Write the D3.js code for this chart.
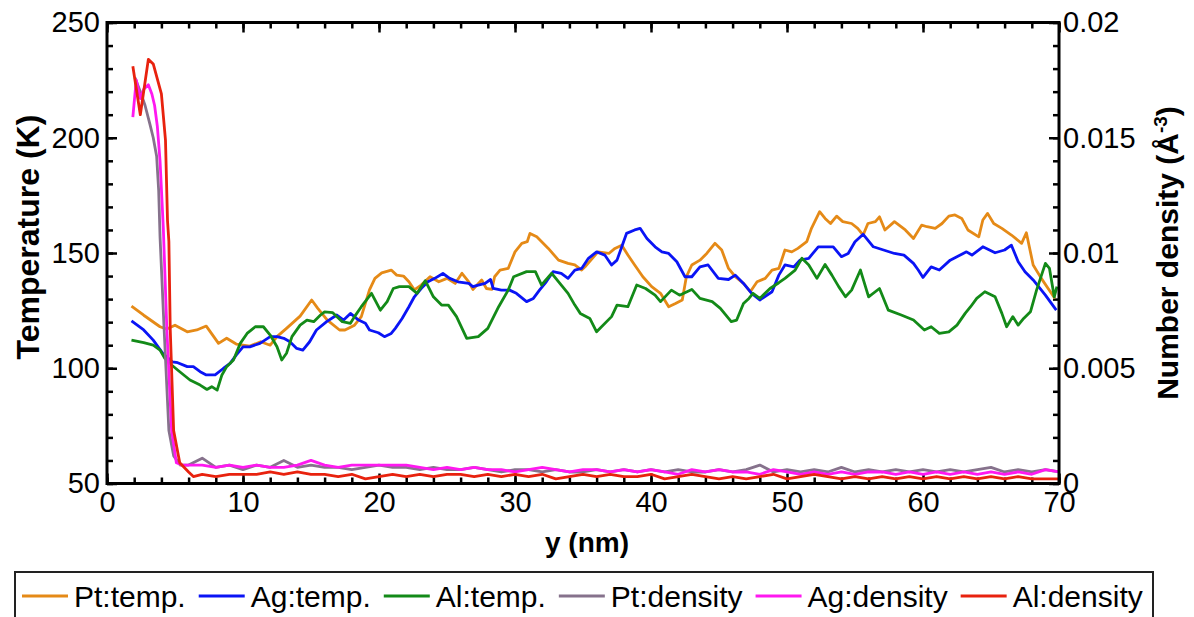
<!DOCTYPE html>
<html>
<head>
<meta charset="utf-8">
<script src="https://cdn.jsdelivr.net/npm/d3@7"></script>
<style>
  body { margin: 0; background: #fff; }
  svg { display: block; }
  text { font-family: Arial, "Liberation Sans", sans-serif; fill: #000; }
</style>
</head>
<body>
<svg id="chart" width="1194" height="617"></svg>
<script>
// ---- data: y position (nm) vs temperature (K) ----
const ptTemp = [[1.8,127],[2.7,123],[3.9,118],[4.4,117],[5.0,118.7],[5.9,115.8],[6.6,116.6],[7.3,118.3],[8.2,110.8],[8.8,113],[9.5,110.5],[10.5,109.6],[11.3,111.5],[12.0,110],[12.5,113.7],[13.2,117.3],[14.2,122.6],[15.05,129.6],[15.5,126],[16.2,120.9],[17.1,116.6],[17.5,116.6],[18.2,118.7],[18.7,122.4],[19.3,134],[19.7,139],[20.2,141.4],[20.9,142.6],[21.3,140.4],[21.8,140],[22.2,137.5],[22.6,134],[23.1,136.1],[23.75,139.7],[24.4,137.5],[25.0,139],[25.6,136.8],[26.1,141.2],[26.6,137.5],[26.9,134.2],[27.55,138.3],[27.9,134.6],[28.3,134.2],[28.5,139.7],[28.9,142.6],[29.5,143.3],[30.0,150.5],[30.5,154.2],[30.9,154.9],[31.1,158.5],[31.6,157],[32.45,152],[33.2,146.9],[33.9,145.5],[34.4,144.8],[34.9,142.6],[35.15,144],[36.1,150.5],[36.9,149.8],[37.35,152],[37.85,153.4],[38.3,149.1],[38.8,144.8],[39.4,139.7],[40.05,135.4],[40.7,132.5],[41.3,126.7],[41.8,128.1],[42.3,129.6],[42.6,139.7],[43.0,144.8],[43.6,146.9],[44.1,149.8],[44.7,154.2],[45.2,151.3],[45.7,143.3],[46.2,139.7],[46.8,136.8],[47.3,133.2],[47.8,137.5],[48.4,139],[48.9,142.6],[49.4,143.3],[49.85,151.3],[50.35,150.5],[50.8,152],[51.45,154.9],[51.8,160.7],[52.4,167.9],[52.8,165],[53.2,162.8],[53.65,166],[54.1,163.6],[54.75,162.8],[55.2,160.7],[55.6,157.8],[55.95,162.8],[56.5,163.6],[56.8,165.7],[57.2,160],[57.9,163.6],[58.7,160],[59.3,156.3],[59.9,162.1],[60.3,161.4],[60.9,160.7],[61.4,162.8],[61.9,166],[62.35,166.5],[62.85,165],[63.3,160],[64.1,157],[64.4,164.3],[64.75,167.2],[65.2,162.8],[65.8,160.7],[66.5,157.8],[67.25,154.2],[67.6,158.8],[68.1,144.8],[68.7,139],[69.2,134.6],[69.7,130.3]];

const agTemp = [[1.8,120.6],[2.7,116.6],[3.4,112.2],[4.1,106.5],[4.8,102.8],[5.2,102.4],[5.9,100.7],[6.35,100.7],[6.85,98.5],[7.3,97.1],[7.95,97.1],[8.55,99.9],[9.05,102.1],[9.5,105.7],[10.0,109.3],[10.5,109.3],[11.25,110.8],[12.0,113.7],[12.5,113.7],[13.0,113],[13.45,111.5],[13.95,108.6],[14.4,107.9],[14.9,111.5],[15.4,116.6],[16.15,120.2],[16.9,123.1],[17.4,120.9],[17.9,123.8],[18.5,120.9],[19.0,119.5],[19.3,116.6],[19.95,115.4],[20.4,113.7],[20.9,115.1],[21.2,117.3],[21.7,121.6],[22.2,126.7],[22.6,131],[23.1,134.6],[23.6,137.5],[24.1,139],[24.7,141.1],[25.2,139],[25.8,137.5],[26.6,136.8],[26.9,135.4],[27.3,136.1],[27.8,136.8],[28.2,138.5],[28.4,134.6],[29.0,133.9],[29.6,133.9],[30.1,132.5],[30.85,128.9],[31.35,130.3],[31.8,133.9],[32.3,137.5],[32.8,141.9],[33.4,141.2],[33.9,139],[34.4,142.6],[34.9,143.3],[35.4,147.7],[36.0,150.5],[36.6,149.1],[37.1,144.8],[37.5,146.9],[38.2,158.5],[38.8,160],[39.2,160.7],[39.7,156.3],[40.3,152.7],[40.8,150.5],[41.3,149.8],[41.9,146.2],[42.5,139.7],[43.0,139.7],[43.6,144],[44.2,144.8],[44.95,139],[45.7,138.5],[46.2,140.4],[46.8,136.8],[47.4,132.5],[48.0,129.6],[48.9,133.2],[49.4,140.4],[49.85,144.8],[50.5,144],[50.95,146.9],[51.6,147.7],[52.3,152.7],[53.4,152.7],[54.0,148.4],[54.5,149.8],[55.0,154.9],[55.6,158.1],[56.35,152.7],[57.1,151.3],[57.9,149.8],[58.6,149.1],[59.3,145.5],[59.65,142.6],[60.0,139.4],[60.6,144],[61.2,142.6],[62.0,146.9],[62.6,148.7],[63.2,150.5],[63.6,149.1],[64.4,152.7],[65.3,150.1],[66.0,151.3],[66.5,153.4],[67.0,146.2],[67.5,141.9],[68.1,138.3],[69.0,131.7],[69.8,125.2]];

const alTemp = [[1.8,112.2],[2.7,111.1],[3.4,110],[3.9,107.9],[4.25,104.3],[4.75,101.4],[5.35,98.5],[6.1,94.9],[6.85,92.7],[7.35,90.8],[7.7,92],[8.1,90.5],[8.45,97.1],[8.8,100.7],[9.3,103.6],[9.8,110.8],[10.3,115.1],[10.9,118],[11.5,118],[12.0,114.4],[12.5,109.3],[12.85,103.6],[13.2,106.5],[13.6,113.7],[14.2,118.7],[14.7,120.9],[15.2,120.2],[15.7,123.1],[16.0,124.5],[16.6,124.1],[17.3,120.2],[17.9,119.5],[18.2,122.4],[18.7,126.7],[19.45,132.5],[20.1,125.2],[20.6,128.9],[21.05,134.6],[21.5,135.4],[22.2,135.4],[22.8,132.5],[23.4,138],[24.0,131],[24.6,127.4],[25.1,127.4],[25.7,122.4],[26.45,113],[27.3,113.7],[28.0,117.3],[28.8,126.7],[29.5,133.9],[29.9,139.7],[30.85,141.9],[31.5,141.9],[31.95,136.1],[32.7,141.2],[33.3,136.8],[33.9,132.5],[34.4,127.4],[34.8,123.8],[35.5,121.6],[36.0,115.8],[37.1,122.4],[37.5,127.4],[38.3,126.7],[38.95,136.1],[39.6,134.6],[40.3,131.7],[40.7,128.9],[41.5,133.9],[42.1,131.7],[43.0,134.2],[43.6,130.3],[44.5,128.9],[45.1,126],[45.9,120.2],[46.3,120.9],[46.8,128.1],[47.2,130.3],[47.5,132.5],[48.0,130.3],[48.75,134.6],[49.4,137.1],[49.85,139],[50.6,142.6],[51.1,147.7],[51.6,144.8],[52.2,139],[52.8,145],[53.3,140.4],[53.8,135.4],[54.3,131],[54.75,133.9],[55.4,142.6],[56.0,131],[56.8,134.6],[57.45,125.2],[58.4,123.1],[59.3,120.9],[60.1,116.6],[60.6,118],[61.2,115.1],[61.9,115.8],[62.5,118.7],[63.1,123.8],[63.5,126.7],[63.95,130.3],[64.55,133.2],[65.3,131],[65.8,123.8],[66.15,118],[66.6,122.4],[67.0,118.7],[67.4,121.6],[67.9,124.5],[68.35,133.9],[69.0,145.5],[69.3,143.3],[69.65,131],[69.85,135.4]];

// ---- data: y position (nm) vs number density (1/Å^3) ----
const ptDens = [[2.06,0.0176],[2.45,0.0170],[2.8,0.0164],[3.15,0.0156],[3.4,0.0150],[3.65,0.0142],[3.8,0.0127],[3.9,0.0107],[4.2,0.0067],[4.55,0.0023],[4.9,0.0012],[5.4,0.0008],[6,0.0008],[7,0.0011],[8,0.0007],[9,0.0008],[10,0.0006],[11,0.0008],[12,0.0007],[13,0.0010],[14,0.0007],[15,0.0008],[16,0.0007],[17,0.0007],[18,0.0006],[19,0.0007],[20,0.0008],[21,0.0007],[22,0.0007],[23,0.0006],[24,0.0007],[25,0.0006],[26,0.0006],[27,0.0007],[28,0.0006],[29,0.0005],[30,0.0006],[31,0.0006],[32,0.0005],[33,0.0006],[34,0.0005],[35,0.0005],[36,0.0006],[37,0.0005],[38,0.0006],[39,0.0005],[40,0.0006],[41,0.0005],[42,0.0006],[43,0.0005],[44,0.0005],[45,0.0006],[46,0.0005],[47,0.0006],[48,0.0008],[49,0.0005],[50,0.0006],[51,0.0005],[52,0.0006],[53,0.0005],[54,0.0007],[55,0.0005],[56,0.0006],[57,0.0005],[58,0.0006],[59,0.0005],[60,0.0006],[61,0.0005],[62,0.0006],[63,0.0005],[64,0.0006],[65,0.0007],[66,0.0005],[67,0.0006],[68,0.0005],[69,0.0006],[70,0.0005]];

const agDens = [[1.9,0.0159],[2.15,0.0175],[2.45,0.0167],[2.7,0.0171],[3.04,0.0173],[3.3,0.0169],[3.5,0.0164],[3.7,0.0155],[3.9,0.0140],[4.14,0.0111],[4.4,0.0067],[4.75,0.0023],[5.1,0.0009],[5.5,0.0008],[6,0.0008],[7,0.0008],[8,0.0007],[9,0.0008],[10,0.0007],[11,0.0008],[12,0.0007],[13,0.0007],[14,0.0008],[15,0.0010],[16,0.0008],[17,0.0007],[18,0.0008],[19,0.0008],[20,0.0008],[21,0.0008],[22,0.0008],[23,0.0007],[24,0.0006],[25,0.0007],[26,0.0006],[27,0.0007],[28,0.0006],[29,0.0006],[30,0.0005],[31,0.0006],[32,0.0007],[33,0.0006],[34,0.0005],[35,0.0006],[36,0.0006],[37,0.0005],[38,0.0006],[39,0.0005],[40,0.0006],[41,0.0005],[42,0.0004],[43,0.0006],[44,0.0005],[45,0.0006],[46,0.0005],[47,0.0005],[48,0.0004],[49,0.0006],[50,0.0005],[51,0.0004],[52,0.0005],[53,0.0004],[54,0.0005],[55,0.0004],[56,0.0005],[57,0.0005],[58,0.0004],[59,0.0005],[60,0.0004],[61,0.0005],[62,0.0004],[63,0.0005],[64,0.0004],[65,0.0005],[66,0.0004],[67,0.0005],[68,0.0004],[69,0.0006],[70,0.0005]];

const alDens = [[1.9,0.0181],[2.45,0.0160],[3.04,0.0184],[3.4,0.0182],[4.0,0.0169],[4.3,0.0149],[4.45,0.0114],[4.55,0.0105],[4.65,0.0067],[4.9,0.0023],[5.35,0.0009],[6.0,0.0005],[6.35,0.0003],[7,0.0004],[8,0.0003],[9,0.0004],[10,0.0004],[11,0.0004],[12,0.0005],[13,0.0004],[14,0.0005],[15,0.0004],[16,0.0004],[17,0.0003],[18,0.0004],[19,0.0002],[20,0.0003],[21,0.0004],[22,0.0003],[23,0.0004],[24,0.0003],[25,0.0004],[26,0.0004],[27,0.0003],[28,0.0004],[29,0.0003],[30,0.0004],[31,0.0003],[32,0.0004],[33,0.0002],[34,0.0003],[35,0.0004],[36,0.0003],[37,0.0004],[38,0.0003],[39,0.0003],[40,0.0004],[41,0.0002],[42,0.0003],[43,0.0004],[44,0.0003],[45,0.0002],[46,0.0003],[47,0.0002],[48,0.0003],[49,0.0004],[50,0.0002],[51,0.0003],[52,0.0004],[53,0.0003],[54,0.0002],[55,0.0003],[56,0.0002],[57,0.0003],[58,0.0002],[59,0.0003],[60,0.0002],[61,0.0003],[62,0.0002],[63,0.0003],[64,0.0002],[65,0.0003],[66,0.0002],[67,0.0003],[68,0.0002],[69,0.0002],[70,0.0002]];

// ---- axis ticks and labels ----
const xTicks = [0, 10, 20, 30, 40, 50, 60, 70];
const xTickLabels = ["0", "10", "20", "30", "40", "50", "60", "70"];
const tTicks = [50, 100, 150, 200, 250];
const tTickLabels = ["50", "100", "150", "200", "250"];
const dTicks = [0, 0.005, 0.01, 0.015, 0.02];
const dTickLabels = ["0", "0.005", "0.01", "0.015", "0.02"];

const seriesNames = ["Pt:temp.", "Ag:temp.", "Al:temp.", "Pt:density", "Ag:density", "Al:density"];
const seriesColors = ["#E58A17", "#0A14F5", "#138A18", "#86728C", "#FF18F0", "#E8220E"];

// ---- layout ----
const svg = d3.select("#chart");
const L = 107, R = 1059, T = 22.5, B = 483.5;

const x = d3.scaleLinear().domain([0, 70]).range([L, R]);
const yT = d3.scaleLinear().domain([50, 250]).range([B, T]);
const yD = d3.scaleLinear().domain([0, 0.02]).range([B, T]);

const FONT = 29;

function styleAxis(g) {
  g.select(".domain").remove();
  g.selectAll(".tick line").attr("stroke", "#000").attr("stroke-width", 2.5);
  g.selectAll(".tick text").attr("font-size", FONT).attr("font-family", "Arial, 'Liberation Sans', sans-serif").attr("fill", "#000");
}

const minorX = d3.range(0, 71, 2);
const minorT = d3.range(50, 251, 10);
const minorD = d3.range(0, 21).map(i => i * 0.001);

// bottom
svg.append("g").attr("transform", `translate(0,${B})`)
  .call(d3.axisBottom(x).tickValues(minorX).tickSize(-6).tickFormat(""))
  .call(styleAxis);
svg.append("g").attr("transform", `translate(0,${B})`)
  .call(d3.axisBottom(x).tickValues(xTicks).tickSize(-10).tickPadding(8)
    .tickFormat((d, i) => xTickLabels[i]))
  .call(styleAxis);
// top
svg.append("g").attr("transform", `translate(0,${T})`)
  .call(d3.axisTop(x).tickValues(minorX).tickSize(-6).tickFormat(""))
  .call(styleAxis);
svg.append("g").attr("transform", `translate(0,${T})`)
  .call(d3.axisTop(x).tickValues(xTicks).tickSize(-10).tickFormat(""))
  .call(styleAxis);
// left (temperature)
svg.append("g").attr("transform", `translate(${L},0)`)
  .call(d3.axisLeft(yT).tickValues(minorT).tickSize(-6).tickFormat(""))
  .call(styleAxis);
svg.append("g").attr("transform", `translate(${L},0)`)
  .call(d3.axisLeft(yT).tickValues(tTicks).tickSize(-10).tickPadding(7)
    .tickFormat((d, i) => tTickLabels[i]))
  .call(styleAxis);
// right (number density)
svg.append("g").attr("transform", `translate(${R},0)`)
  .call(d3.axisRight(yD).tickValues(minorD).tickSize(-6).tickFormat(""))
  .call(styleAxis);
svg.append("g").attr("transform", `translate(${R},0)`)
  .call(d3.axisRight(yD).tickValues(dTicks).tickSize(-10).tickPadding(4)
    .tickFormat((d, i) => dTickLabels[i]))
  .call(styleAxis);

// ---- series ----
const lineT = d3.line().x(d => x(d[0])).y(d => yT(d[1]));
const lineD = d3.line().x(d => x(d[0])).y(d => yD(d[1]));

const plotted = [
  { data: ptTemp, line: lineT },
  { data: agTemp, line: lineT },
  { data: alTemp, line: lineT },
  { data: ptDens, line: lineD },
  { data: agDens, line: lineD },
  { data: alDens, line: lineD }
];

svg.append("g").selectAll("path")
  .data(plotted)
  .join("path")
  .attr("d", d => d.line(d.data))
  .attr("fill", "none")
  .attr("stroke", (d, i) => seriesColors[i])
  .attr("stroke-width", 2.8)
  .attr("stroke-linejoin", "round");

// frame
svg.append("rect")
  .attr("x", L).attr("y", T).attr("width", R - L).attr("height", B - T)
  .attr("fill", "none").attr("stroke", "#000").attr("stroke-width", 3);

// ---- axis titles ----
svg.append("text")
  .attr("x", 587).attr("y", 552)
  .attr("text-anchor", "middle").attr("font-weight", "bold").attr("font-size", 28)
  .text("y (nm)");

svg.append("text")
  .attr("transform", `translate(39,237) rotate(-90)`)
  .attr("text-anchor", "middle").attr("font-weight", "bold").attr("font-size", 32)
  .text("Temperature (K)");

const rt = svg.append("text")
  .attr("transform", `translate(1178,${(T + B) / 2}) rotate(-90)`)
  .attr("text-anchor", "middle").attr("font-weight", "bold").attr("font-size", 30);
rt.append("tspan").text("Number density (Å");
rt.append("tspan").attr("dy", -11).attr("font-size", 19).text("-3");
rt.append("tspan").attr("dy", 11).text(")");

// ---- legend ----
const legend = svg.append("g");
legend.append("rect")
  .attr("x", 15).attr("y", 572).attr("width", 1138).attr("height", 70)
  .attr("fill", "#fff").attr("stroke", "#222").attr("stroke-width", 2);

let lx = 22;
seriesNames.forEach((name, i) => {
  legend.append("line")
    .attr("x1", lx).attr("x2", lx + 46).attr("y1", 596).attr("y2", 596)
    .attr("stroke", seriesColors[i]).attr("stroke-width", 2.8);
  const t = legend.append("text")
    .attr("x", lx + 52).attr("y", 607)
    .attr("font-size", 30).text(name);
  lx += 52 + t.node().getComputedTextLength() + 13;
});
</script>
</body>
</html>
